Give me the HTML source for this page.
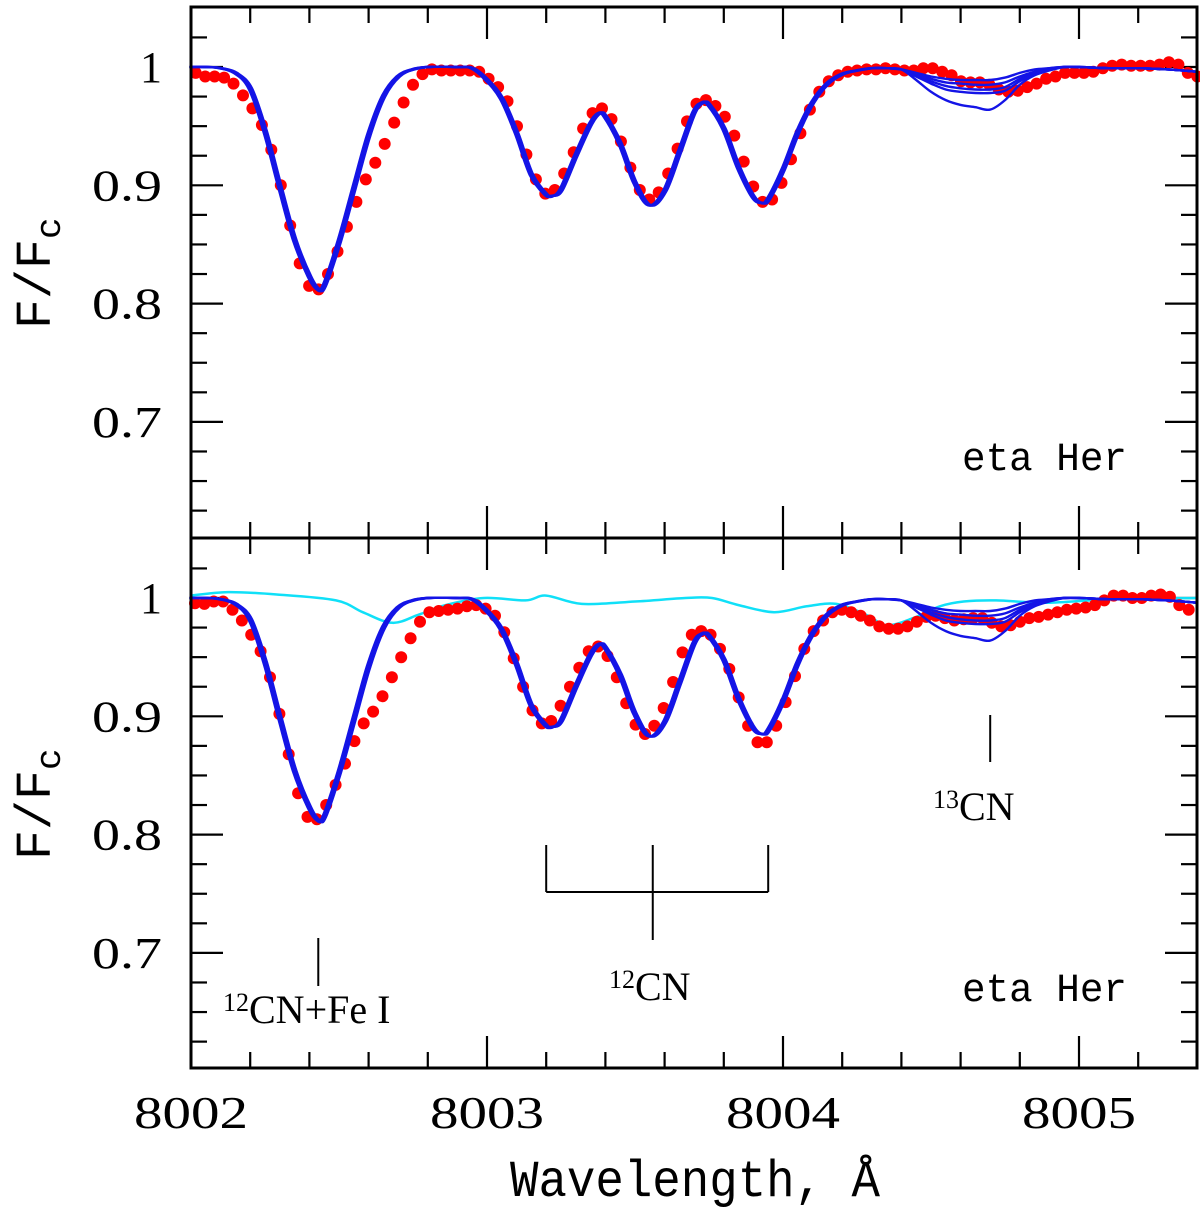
<!DOCTYPE html>
<html><head><meta charset="utf-8"><style>
html,body{margin:0;padding:0;background:#fff}
svg{display:block}
</style></head><body>
<svg id="chart" width="1200" height="1216" viewBox="0 0 1200 1216" xmlns="http://www.w3.org/2000/svg">
<g id="top"></g>
<g id="bot"></g>
<g id="ann"></g>
</svg>
<script>
// ---- data ----
const obsTopStart = 8002.016;
const obsTopStep = 0.03192;
const obsTopFlux = [0.995,0.992,0.992,0.991,0.986,0.976,0.965,0.951,0.930,0.900,0.866,0.834,0.815,0.812,0.825,0.844,0.865,0.886,0.905,0.919,0.935,0.953,0.970,0.985,0.994,0.998,0.997,0.997,0.997,0.997,0.996,0.990,0.983,0.971,0.950,0.926,0.905,0.893,0.896,0.910,0.928,0.948,0.961,0.965,0.956,0.937,0.915,0.896,0.888,0.894,0.910,0.931,0.954,0.969,0.972,0.967,0.958,0.942,0.920,0.899,0.886,0.888,0.902,0.922,0.944,0.964,0.979,0.988,0.993,0.996,0.997,0.998,0.998,0.999,0.998,0.997,0.997,0.999,0.999,0.996,0.993,0.988,0.987,0.987,0.985,0.981,0.979,0.980,0.983,0.986,0.990,0.992,0.995,0.995,0.995,0.996,0.999,1.001,1.002,1.001,1.001,1.001,1.002,1.004,1.002,0.995,0.992];
const obsBotStart = 8002.0135;
const obsBotStep = 0.03167;
const obsBotFlux = [0.9955,0.995,0.997,0.997,0.990,0.981,0.969,0.955,0.933,0.902,0.868,0.835,0.815,0.813,0.825,0.842,0.860,0.879,0.894,0.904,0.917,0.933,0.950,0.966,0.980,0.988,0.989,0.990,0.991,0.993,0.994,0.991,0.985,0.971,0.949,0.925,0.905,0.894,0.896,0.909,0.925,0.941,0.955,0.959,0.951,0.933,0.911,0.893,0.885,0.892,0.907,0.929,0.954,0.969,0.972,0.969,0.957,0.940,0.916,0.892,0.878,0.878,0.892,0.912,0.934,0.957,0.972,0.981,0.988,0.990,0.988,0.985,0.981,0.976,0.974,0.974,0.976,0.980,0.984,0.985,0.983,0.981,0.982,0.983,0.983,0.979,0.976,0.977,0.980,0.983,0.984,0.986,0.988,0.990,0.991,0.992,0.994,0.998,1.002,1.002,1.000,1.000,1.002,1.003,1.001,0.994,0.990];
const modelWave = [8002.0,8002.05,8002.1,8002.15,8002.2,8002.25,8002.3,8002.35,8002.4,8002.43,8002.45,8002.5,8002.55,8002.6,8002.65,8002.7,8002.75,8002.8,8002.9,8002.95,8003.0,8003.05,8003.1,8003.15,8003.2,8003.22,8003.25,8003.3,8003.35,8003.38,8003.4,8003.45,8003.5,8003.55,8003.6,8003.65,8003.7,8003.73,8003.75,8003.8,8003.85,8003.9,8003.93,8003.95,8004.0,8004.05,8004.1,8004.15,8004.2,8004.25,8004.3,8004.35];
const modelFlux = [1.0,1.0,0.999,0.995,0.982,0.946,0.899,0.854,0.823,0.812,0.815,0.852,0.897,0.942,0.975,0.992,0.998,1.0,1.0,0.999,0.989,0.973,0.944,0.909,0.892,0.891,0.896,0.925,0.952,0.961,0.958,0.935,0.902,0.883,0.895,0.928,0.962,0.970,0.968,0.948,0.915,0.890,0.885,0.888,0.913,0.945,0.970,0.986,0.994,0.997,0.999,0.999];
const cnWave = [8004.4,8004.45,8004.5,8004.55,8004.6,8004.65,8004.7,8004.75,8004.8,8004.85,8004.9,8004.95,8005.0,8005.1,8005.2,8005.3,8005.4];
const cnV1 = [0.998,0.995,0.992,0.990,0.989,0.989,0.989,0.991,0.995,0.998,0.999,1.0,1.0,0.999,0.999,0.998,0.996];
const cnV2 = [0.998,0.994,0.990,0.987,0.986,0.985,0.985,0.987,0.992,0.996,0.999,1.0,1.0,0.999,0.999,0.998,0.996];
const cnV3 = [0.998,0.993,0.988,0.984,0.982,0.981,0.981,0.983,0.990,0.995,0.998,1.0,1.0,0.999,0.999,0.998,0.996];
const cnV4 = [0.998,0.992,0.986,0.981,0.979,0.978,0.978,0.980,0.988,0.994,0.998,1.0,1.0,0.999,0.999,0.998,0.996];
const cnV5 = [0.998,0.989,0.979,0.972,0.968,0.966,0.964,0.972,0.985,0.993,0.997,1.0,1.0,0.999,0.999,0.998,0.996];
const cyanWave = [8002.0,8002.125,8002.29,8002.49,8002.58,8002.68,8002.77,8002.86,8002.99,8003.13,8003.2,8003.32,8003.5,8003.67,8003.76,8003.85,8003.97,8004.08,8004.18,8004.28,8004.35,8004.44,8004.53,8004.61,8004.72,8004.89,8005.11,8005.4];
const cyanFlux = [1.002,1.005,1.003,0.998,0.988,0.979,0.986,0.994,1.0,0.998,1.002,0.995,0.997,1.0,1.0,0.994,0.988,0.993,0.995,0.986,0.977,0.983,0.993,0.997,0.998,0.996,0.999,1.0];
const xTickLabels = ["8002","8003","8004","8005"];
const yTickLabels = ["0.7","0.8","0.9","1"];

// ---- axes ----
const X0=191, X1=1197, WL0=8002, PXA=296;
const xs = l => X0 + (l-WL0)*PXA;
const PANELS = [{top:7,bot:538,one:67,g:'top'},{top:538,bot:1068,one:598,g:'bot'}];
const PXF = 1183;
const NS='http://www.w3.org/2000/svg';
function mk(tag,attrs,parent){const e=document.createElementNS(NS,tag);for(const k in attrs)e.setAttribute(k,attrs[k]);parent.appendChild(e);return e;}
function smooth(pts){
  let d='M'+pts[0][0].toFixed(1)+','+pts[0][1].toFixed(1);
  for(let i=0;i<pts.length-1;i++){
    const p0=pts[Math.max(0,i-1)],p1=pts[i],p2=pts[i+1],p3=pts[Math.min(pts.length-1,i+2)];
    const c1=[p1[0]+(p2[0]-p0[0])/6,p1[1]+(p2[1]-p0[1])/6];
    const c2=[p2[0]-(p3[0]-p1[0])/6,p2[1]-(p3[1]-p1[1])/6];
    d+=` C${c1[0].toFixed(1)},${c1[1].toFixed(1)} ${c2[0].toFixed(1)},${c2[1].toFixed(1)} ${p2[0].toFixed(1)},${p2[1].toFixed(1)}`;
  }
  return d;
}

PANELS.forEach((p,pi)=>{
  const g=document.getElementById(p.g);
  const ys = f => p.one + (1-f)*PXF;
  const tg=mk('g',{},g);
  
  
  for(let i=0;i<=17;i++){
    const l=WL0+i*0.2, x=xs(l); if(x>X1-1) break;
    const major=(i%5===0), len=major?32:16;
    mk('line',{x1:x,y1:p.top,x2:x,y2:p.top+len,stroke:'#000','stroke-width':2.2},tg);
    mk('line',{x1:x,y1:p.bot,x2:x,y2:p.bot-len,stroke:'#000','stroke-width':2.2},tg);
  }
  for(let i=0;i<=18;i++){
    const f=0.6+i*0.025, y=ys(f); if(y<p.top+1||y>p.bot-1) continue;
    const major=(i%4===0), len=major?32:16;
    mk('line',{x1:X0,y1:y,x2:X0+len,y2:y,stroke:'#000','stroke-width':2.2},tg);
    mk('line',{x1:X1,y1:y,x2:X1-len,y2:y,stroke:'#000','stroke-width':2.2},tg);
  }
  yTickLabels.forEach((t,i)=>{
    const f=0.7+i*0.1;
    const tx=mk('text',{x:162,y:ys(f)+15,'text-anchor':'end','font-family':'"Liberation Serif",serif','font-size':44},g);
    
    
    if(t.length>1){tx.setAttribute('textLength',70);tx.setAttribute('lengthAdjust','spacingAndGlyphs');}
    tx.textContent=t;
  });
  const yt=mk('text',{transform:`translate(50,${p.one+262}) rotate(-90)`,'font-family':'"Liberation Mono",monospace','font-size':50},g);
  
  
  yt.innerHTML='F/F<tspan font-size="36" dy="10">c</tspan>';

  const curves=[cnV1,cnV2,cnV3,cnV4,cnV5];
  if(pi===1){
    const cp=cyanWave.map((l,i)=>[xs(l),ys(cyanFlux[i])]);
    const c=mk('path',{d:smooth(cp),fill:'none',stroke:'#10e0f8','stroke-width':2.5},g);
    
    
  }
  const flux = pi?obsBotFlux:obsTopFlux, st=pi?obsBotStart:obsTopStart, sp=pi?obsBotStep:obsTopStep;
  const dg=mk('g',{fill:'#f00'},g);
  
  
  flux.forEach((f,i)=>{
    const c=mk('circle',{cx:xs(st+i*sp).toFixed(1),cy:ys(f).toFixed(1),r:6},dg);
    
    
  });
  curves.forEach((v,k)=>{
    const pts=modelWave.map((l,i)=>[xs(l+(k-2)*0.003),ys(modelFlux[i])]).concat(cnWave.map((l,i)=>[xs(l),ys(v[i])]));
    const pl=mk('path',{d:smooth(pts),fill:'none',stroke:'#1414e6','stroke-width':2.4,'stroke-linejoin':'round'},g);
    
    
  });
  const fr=mk('rect',{x:X0,y:p.top,width:X1-X0,height:p.bot-p.top,fill:'none',stroke:'#000','stroke-width':3},g);
  
  
  const st2=mk('text',{x:962,y:p.one+403,'font-family':'"Liberation Mono",monospace','font-size':40,textLength:165,lengthAdjust:'spacingAndGlyphs'},g);
  
  
  st2.textContent='eta Her';
});
const ann=document.getElementById('ann');
xTickLabels.forEach((t,i)=>{
  const tx=mk('text',{x:xs(WL0+i),y:1128,'text-anchor':'middle','font-family':'"Liberation Serif",serif','font-size':46,textLength:114,lengthAdjust:'spacingAndGlyphs'},ann);
  
  
  tx.textContent=t;
});
const xt=mk('text',{x:695,y:1196,'text-anchor':'middle','font-family':'"Liberation Mono",monospace','font-size':52,textLength:370,lengthAdjust:'spacingAndGlyphs'},ann);


xt.textContent='Wavelength, Å';
function ln(x1,y1,x2,y2,name){const l=mk('line',{x1,y1,x2,y2,stroke:'#000','stroke-width':2},ann);}
ln(xs(8002.43),938,xs(8002.43),986,'fe-line-marker');
ln(xs(8003.2),845,xs(8003.2),892,'cn-bracket-left');
ln(xs(8003.56),845,xs(8003.56),940,'cn-bracket-center');
ln(xs(8003.95),845,xs(8003.95),892,'cn-bracket-right');
ln(xs(8003.2),892,xs(8003.95),892,'cn-bracket-bar');
ln(xs(8004.7),715,xs(8004.7),762,'13cn-marker');
function lab(x,y,html,name,len){const t=mk('text',{x,y,'font-family':'"Liberation Serif",serif','font-size':40},ann);if(len){t.setAttribute('textLength',len);t.setAttribute('lengthAdjust','spacingAndGlyphs');}t.innerHTML=html;}
lab(223,1023,'<tspan font-size="26" dy="-12">12</tspan><tspan dy="12">CN+Fe I</tspan>','fe-label');
lab(609,1000,'<tspan font-size="26" dy="-12">12</tspan><tspan dy="12">CN</tspan>','12cn-label');
lab(933,820,'<tspan font-size="26" dy="-12">13</tspan><tspan dy="12">CN</tspan>','13cn-label');
</script>
</body></html>
